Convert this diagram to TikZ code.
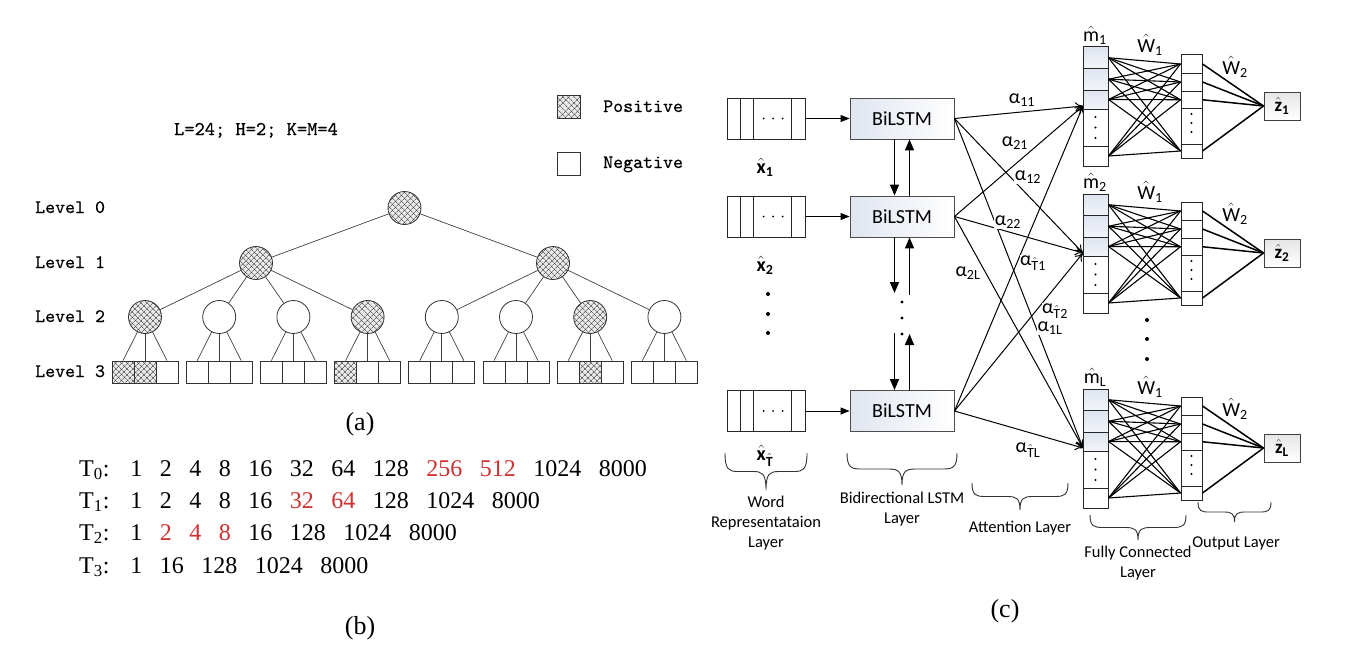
\documentclass[tikz,border=0pt]{standalone}
\usepackage{fontspec}
\setmainfont{Liberation Serif}
\newfontfamily\monof[FakeBold=0.5]{lmmono10-regular.otf}
\newfontfamily\calib{Carlito}
\usetikzlibrary{patterns.meta,arrows.meta}

\definecolor{numred}{RGB}{208,48,48}
\definecolor{cellblue}{RGB}{222,228,240}
\definecolor{boxblue}{RGB}{224,229,240}

% hat over a text letter in the current font
\newcommand\hatt[1]{$\hat{\mbox{#1}}$}
\newcommand\tgap{\hspace{17.5pt}}
\newcommand\rd[1]{\textcolor{numred}{#1}}
% curly brace opening upwards: xL, xR, top y, depth, curl width
\newcommand\layerbrace[5]{%
  \draw[bracestyle] (#1,#3)
    .. controls (#1,{#3+0.45*#4}) and ({#1+0.3*#5},{#3+0.5*#4}) .. ({#1+#5},{#3+0.5*#4})
    -- ({(#1+#2)/2-#5},{#3+0.5*#4})
    .. controls ({(#1+#2)/2-0.3*#5},{#3+0.5*#4}) and ({(#1+#2)/2},{#3+0.55*#4}) .. ({(#1+#2)/2},{#3+#4})
    .. controls ({(#1+#2)/2},{#3+0.55*#4}) and ({(#1+#2)/2+0.3*#5},{#3+0.5*#4}) .. ({(#1+#2)/2+#5},{#3+0.5*#4})
    -- ({#2-#5},{#3+0.5*#4})
    .. controls ({#2-0.3*#5},{#3+0.5*#4}) and (#2,{#3+0.45*#4}) .. (#2,#3);}

\begin{document}
\begin{tikzpicture}[x=1pt,y=-1pt,
  tnode/.style={circle,draw=black!80,line width=0.8pt,minimum size=33pt,inner sep=0pt},
  hatched/.style={preaction={fill=black!8},
                  preaction={pattern={Lines[angle=45,distance=4pt,line width=0.5pt]},pattern color=black!80},
                  pattern={Lines[angle=-45,distance=4pt,line width=0.5pt]},pattern color=black!80},
  plain/.style={},
  leaf/.style={rectangle,draw=black!80,line width=0.8pt,minimum width=22pt,minimum height=22pt,inner sep=0pt},
  tedge/.style={draw=black!75,line width=0.7pt},
  lvl/.style={anchor=base west,inner sep=0pt,font=\monof\fontsize{19}{22}\selectfont},
  tline/.style={anchor=base west,inner sep=0pt,font=\fontsize{24}{28}\selectfont},
  capt/.style={inner sep=0pt,font=\fontsize{26}{30}\selectfont},
  wordbox/.style={rectangle,draw=black!85,line width=1pt,minimum width=78pt,minimum height=41pt,inner sep=0pt},
  cellline/.style={draw=black!85,line width=1pt},
  bil/.style={rectangle,draw=black!70,line width=0.9pt,left color=boxblue,right color=white,minimum width=104pt,minimum height=41pt,inner sep=0pt,font=\calib\fontsize{20}{24}\selectfont},
  inarr/.style={line width=0.9pt,-{Triangle[length=9pt,width=7pt]}},
  varr/.style={line width=1.5pt,-{Triangle[length=11pt,width=9pt]}},
  att/.style={line width=1pt,-{To[length=8pt,width=9pt]}},
  fc/.style={line width=1.1pt},
  outl/.style={line width=1.5pt},
  cell/.style={rectangle,draw=black!85,line width=1pt,inner sep=0pt},
  shadedcell/.style={top color=cellblue,bottom color=cellblue!40!white},
  zbox/.style={rectangle,draw=black!75,line width=1pt,top color=black!10,bottom color=white,minimum width=36pt,minimum height=28pt,inner sep=0pt,font=\calib\bfseries\fontsize{19}{22}\selectfont},
  alab/.style={inner sep=0.5pt,fill=white,font=\calib\fontsize{20}{24}\selectfont},
  glab/.style={inner sep=0pt,font=\calib\fontsize{20}{24}\selectfont},
  xlab/.style={inner sep=0pt,font=\calib\bfseries\fontsize{20}{24}\selectfont},
  layerlab/.style={inner sep=0pt,align=center,font=\calib\fontsize{16.5}{20}\selectfont},
  bracestyle/.style={draw=black!80,line width=0.9pt}
]
\useasboundingbox (0,0) rectangle (1348,661);

%% ---------------- (a) coarse-to-fine tree ----------------
\node[anchor=base,inner sep=0pt,font=\monof\fontsize{19.5}{22}\selectfont] (param) at (256,135) {L=24; H=2; K=M=4};
\node[leaf,hatched,minimum size=23pt] (legpos) at (568.5,106.5) {};
\node[leaf,minimum size=23pt] (legneg) at (568.5,163.5) {};
\node[lvl] (tpos) at (603,112) {Positive};
\node[lvl] (tneg) at (603,168) {Negative};

\node[lvl] (lv0) at (35,213) {Level 0};
\node[lvl] (lv1) at (35,268) {Level 1};
\node[lvl] (lv2) at (35,322) {Level 2};
\node[lvl] (lv3) at (35,377) {Level 3};

\node[tnode,hatched] (root) at (404.5,208) {};
\node[tnode,hatched] (p1) at (256,263) {};
\node[tnode,hatched] (p2) at (553,263) {};
\foreach \i/\st in {0/hatched,1/plain,2/plain,3/hatched,4/plain,5/plain,6/hatched,7/plain}{
  \node[tnode,\st] (q\i) at ({145+74.2*\i},317) {};
}
\foreach \i/\sa/\sb/\sc in {0/hatched/hatched/plain,1/plain/plain/plain,2/plain/plain/plain,3/hatched/plain/plain,
                           4/plain/plain/plain,5/plain/plain/plain,6/plain/hatched/plain,7/plain/plain/plain}{
  \node[leaf,\sa] (s\i-0) at ({145+74.2*\i-22},372) {};
  \node[leaf,\sb] (s\i-1) at ({145+74.2*\i},372) {};
  \node[leaf,\sc] (s\i-2) at ({145+74.2*\i+22},372) {};
  \foreach \j in {0,1,2} \draw[tedge] (q\i) -- (s\i-\j.north);
}
\foreach \i in {0,...,3} \draw[tedge] (p1) -- (q\i);
\foreach \i in {4,...,7} \draw[tedge] (p2) -- (q\i);
\draw[tedge] (root) -- (p1);
\draw[tedge] (root) -- (p2);

\node[capt] (capa) at (360,424) {(a)};

%% ---------------- (b) candidate lists ----------------
\node[tline] (t0) at (79,476) {T\textsubscript{0}:\hspace{21pt}1\tgap 2\tgap 4\tgap 8\tgap 16\tgap 32\tgap 64\tgap 128\tgap\rd{256}\tgap\rd{512}\tgap 1024\tgap 8000};
\node[tline] (t1) at (79,508) {T\textsubscript{1}:\hspace{21pt}1\tgap 2\tgap 4\tgap 8\tgap 16\tgap\rd{32}\tgap\rd{64}\tgap 128\tgap 1024\tgap 8000};
\node[tline] (t2) at (79,540) {T\textsubscript{2}:\hspace{21pt}1\tgap\rd{2}\tgap\rd{4}\tgap\rd{8}\tgap 16\tgap 128\tgap 1024\tgap 8000};
\node[tline] (t3) at (79,573) {T\textsubscript{3}:\hspace{21pt}1\tgap 16\tgap 128\tgap 1024\tgap 8000};
\node[capt] (capb) at (360,628) {(b)};

%% ---------------- (c) BiLSTM + attention network ----------------
\foreach \k/\yy in {1/118.5,2/216.5,3/411}{
  \node[wordbox] (w\k) at (766,\yy) {};
  \draw[cellline] ([xshift=14pt]w\k.north west) -- ([xshift=14pt]w\k.south west);
  \draw[cellline] ([xshift=27pt]w\k.north west) -- ([xshift=27pt]w\k.south west);
  \draw[cellline] ([xshift=65pt]w\k.north west) -- ([xshift=65pt]w\k.south west);
  \fill (763.5,\yy) circle (1pt) (773,\yy) circle (1pt) (782.5,\yy) circle (1pt);
  \node[bil] (b\k) at (902,\yy) {BiLSTM};
  \draw[inarr] (w\k) -- (b\k);
}
\node[xlab] (x1) at (765,167) {\hatt{x}\textsubscript{1}};
\node[xlab] (x2) at (765,265) {\hatt{x}\textsubscript{2}};
\node[xlab] (xT) at (765,456) {\hatt{x}\textsubscript{\hatt{T}}};
\fill (768,294) circle (2pt) (768,314) circle (2pt) (768,333) circle (2pt);

% recurrent links between time steps
\coordinate (v2d) at (894.5,293);
\coordinate (v2u) at (909.5,295);
\coordinate (v3d) at (894.5,333);
\coordinate (v3u) at (909.5,334);
\draw[varr] ([xshift=-7.5pt]b1.south) -- ([xshift=-7.5pt]b2.north);
\draw[varr] ([xshift=7.5pt]b2.north) -- ([xshift=7.5pt]b1.south);
\draw[varr] ([xshift=-7.5pt]b2.south) -- (v2d);
\draw[varr] (v2u) -- ([xshift=7.5pt]b2.south);
\draw[varr] (v3d) -- ([xshift=-7.5pt]b3.north);
\draw[varr] ([xshift=7.5pt]b3.north) -- (v3u);
\fill (902,302) circle (1.6pt) (902,318) circle (1.6pt) (902,334) circle (1.6pt);

% attention targets
\coordinate (att1) at (1083,106);
\coordinate (att2) at (1083,253);
\coordinate (attL) at (1083,448);
\foreach \k in {1,2,3}{
  \foreach \gp in {1,2,L} \draw[att] (b\k.east) -- (att\gp);
}

% fully connected + output blocks
\foreach \gp/\gy in {1/47,2/194,L/389}{
  \node[cell,shadedcell,minimum width=25pt,minimum height=21.5pt] (m\gp-c1) at (1095.5,\gy+10.75) {};
  \node[cell,shadedcell,minimum width=25pt,minimum height=21.5pt] (m\gp-c2) at (1095.5,\gy+32.25) {};
  \node[cell,shadedcell,minimum width=25pt,minimum height=19pt] (m\gp-c3) at (1095.5,\gy+52.5) {};
  \node[cell,fill=white,minimum width=25pt,minimum height=37pt] (m\gp-c4) at (1095.5,\gy+80.5) {};
  \node[cell,fill=white,minimum width=25pt,minimum height=20pt] (m\gp-c5) at (1095.5,\gy+109) {};
  \fill (1095.5,\gy+70) circle (1.2pt) (1095.5,\gy+80.5) circle (1.2pt) (1095.5,\gy+91) circle (1.2pt);
  \node[cell,fill=white,minimum width=21pt,minimum height=18pt] (h\gp-c1) at (1191.5,\gy+17) {};
  \node[cell,fill=white,minimum width=21pt,minimum height=18pt] (h\gp-c2) at (1191.5,\gy+35) {};
  \node[cell,fill=white,minimum width=21pt,minimum height=17.5pt] (h\gp-c3) at (1191.5,\gy+52.75) {};
  \node[cell,fill=white,minimum width=21pt,minimum height=35.5pt] (h\gp-c4) at (1191.5,\gy+79.25) {};
  \node[cell,fill=white,minimum width=21pt,minimum height=14pt] (h\gp-c5) at (1191.5,\gy+104) {};
  \fill (1191.5,\gy+67) circle (1.2pt) (1191.5,\gy+76) circle (1.2pt) (1191.5,\gy+85) circle (1.2pt);
  \node[zbox] (z\gp) at (1282,\gy+59) {\hatt{z}\textsubscript{\gp}};
  \foreach \i in {1,2,3,5}{
    \foreach \j in {1,2,3,5} \draw[fc] (m\gp-c\i.east) -- (h\gp-c\j.west);
    \draw[outl] (h\gp-c\i.east) -- (z\gp.west);
  }
  \node[glab] (ml\gp) at (1095,\gy-12) {\hatt{m}\textsubscript{\gp}};
  \node[glab] (wa\gp) at (1150,\gy-2) {\hatt{W}\textsubscript{1}};
  \node[glab] (wb\gp) at (1235,\gy+20) {\hatt{W}\textsubscript{2}};
}
\fill (1147,320) circle (2pt) (1147,339) circle (2pt) (1147,359) circle (2pt);

% attention weights
\node[alab] (a11) at (1022,100) {α\textsubscript{11}};
\node[alab] (a21) at (1015,143) {α\textsubscript{21}};
\node[alab] (a12) at (1028,177) {α\textsubscript{12}};
\node[alab] (a22) at (1008,222) {α\textsubscript{22}};
\node[alab] (aT1) at (1033,263) {α\textsubscript{\hatt{T}1}};
\node[alab] (a2L) at (968,273) {α\textsubscript{2L}};
\node[alab] (aT2) at (1055,311) {α\textsubscript{\hatt{T}2}};
\node[alab] (a1L) at (1050,328) {α\textsubscript{1L}};
\node[alab] (aTL) at (1028,450) {α\textsubscript{\hatt{T}L}};

% layer braces and names
\layerbrace{725}{807}{453}{37}{13}
\layerbrace{847}{957}{453}{32}{14}
\layerbrace{972}{1068}{483}{27}{13}
\layerbrace{1090}{1186}{515}{25}{13}
\layerbrace{1198}{1271}{502}{20}{11}
\node[layerlab] (lwr) at (766,523) {Word\\Representataion\\Layer};
\node[layerlab] (lbi) at (902,509) {Bidirectional LSTM\\Layer};
\node[layerlab] (lat) at (1020,528) {Attention Layer};
\node[layerlab] (lfc) at (1138,563) {Fully Connected\\Layer};
\node[layerlab] (lout) at (1236,543) {Output Layer};

\node[capt] (capc) at (1005,611) {(c)};
\end{tikzpicture}
\end{document}
